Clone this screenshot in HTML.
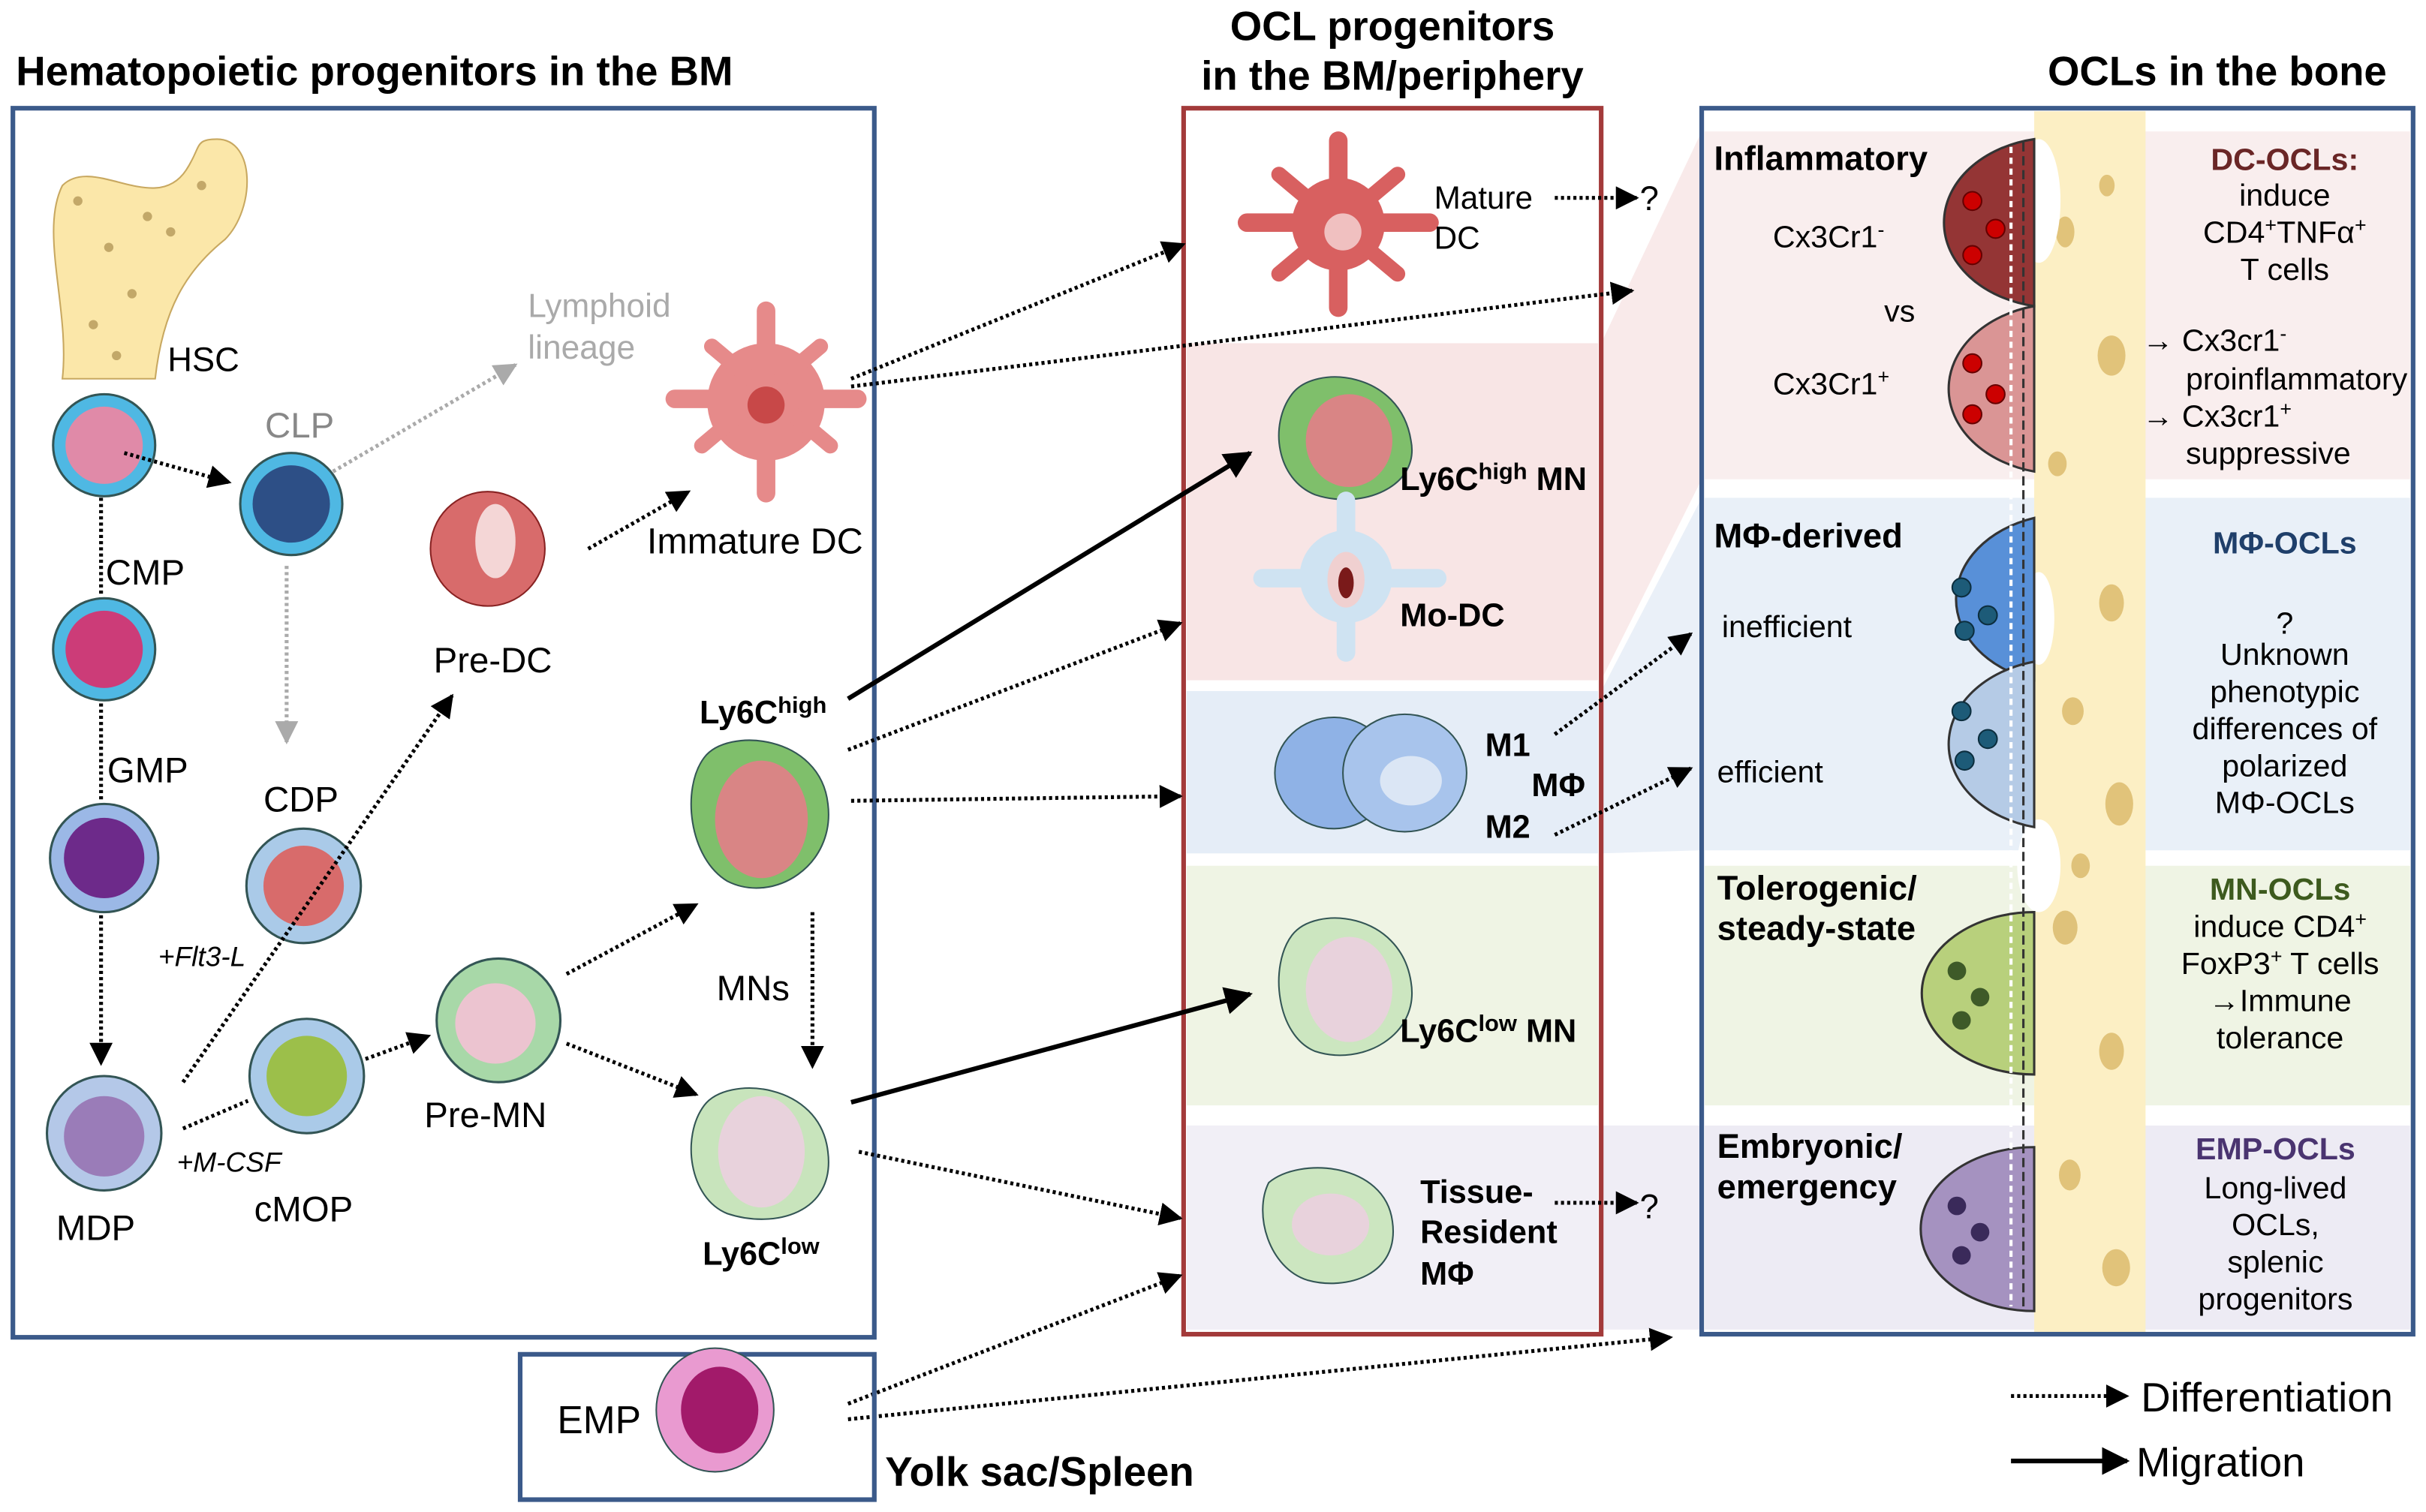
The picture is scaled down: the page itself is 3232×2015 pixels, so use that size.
<!DOCTYPE html>
<html><head><meta charset="utf-8"><style>
html,body{margin:0;padding:0;background:#fff}
svg{display:block}
text{font-family:"Liberation Sans",sans-serif}
</style></head><body>
<svg width="3232" height="2015" viewBox="0 0 1568 978" xmlns="http://www.w3.org/2000/svg">
<defs>
<marker id="a" viewBox="0 0 10 10" refX="9" refY="5" markerWidth="6" markerHeight="6" orient="auto"><path d="M0,0L10,5L0,10z" fill="#000"/></marker>
<marker id="g" viewBox="0 0 10 10" refX="9" refY="5" markerWidth="6" markerHeight="6" orient="auto"><path d="M0,0L10,5L0,10z" fill="#aaa"/></marker>
</defs>
<rect width="1568" height="978" fill="#fff"/>
<!-- titles -->
<text x="10" y="55" font-size="26.5" font-weight="bold">Hematopoietic progenitors in the BM</text>
<text x="900" y="26" font-size="26.5" font-weight="bold" text-anchor="middle">OCL progenitors</text>
<text x="900" y="58" font-size="26.5" font-weight="bold" text-anchor="middle">in the BM/periphery</text>
<text x="1543" y="55" font-size="26.5" font-weight="bold" text-anchor="end">OCLs in the bone</text>

<!-- fans -->
<polygon points="1035,222 1100,85 1100,310 1035,440" fill="#f9eaea"/>
<polygon points="1035,447 1100,322 1100,550 1035,552" fill="#eaf0f8"/>
<polygon points="1035,728 1100,728 1100,860 1035,860" fill="#efedf5"/>

<!-- middle bands -->
<rect x="767" y="222" width="266" height="218" fill="#f8e5e5"/>
<rect x="767" y="447" width="266" height="105" fill="#e5edf7"/>
<rect x="767" y="560" width="266" height="155" fill="#eff4e4"/>
<rect x="767" y="728" width="266" height="132" fill="#f1eff6"/>
<rect x="765" y="70" width="270" height="793" fill="none" stroke="#a33a3a" stroke-width="3"/>

<!-- right bands -->
<rect x="1102" y="85" width="456" height="225" fill="#f9eeee"/>
<rect x="1102" y="322" width="456" height="228" fill="#e9f0f8"/>
<rect x="1102" y="560" width="456" height="155" fill="#eff4e4"/>
<rect x="1102" y="728" width="456" height="132" fill="#edebf4"/>
<rect x="1315" y="72" width="72" height="790" fill="#fcefc4"/>
<g fill="#d9b868" opacity="0.8">
<ellipse cx="1335" cy="150" rx="6" ry="10"/><ellipse cx="1365" cy="230" rx="9" ry="13"/><ellipse cx="1330" cy="300" rx="6" ry="8"/>
<ellipse cx="1365" cy="390" rx="8" ry="12"/><ellipse cx="1340" cy="460" rx="7" ry="9"/><ellipse cx="1370" cy="520" rx="9" ry="14"/>
<ellipse cx="1335" cy="600" rx="8" ry="11"/><ellipse cx="1365" cy="680" rx="8" ry="12"/><ellipse cx="1338" cy="760" rx="7" ry="10"/>
<ellipse cx="1368" cy="820" rx="9" ry="12"/><ellipse cx="1362" cy="120" rx="5" ry="7"/><ellipse cx="1345" cy="560" rx="6" ry="8"/>
</g>
<g fill="#fff"><ellipse cx="1318" cy="130" rx="14" ry="40"/><ellipse cx="1318" cy="560" rx="14" ry="30"/><ellipse cx="1318" cy="400" rx="10" ry="30"/></g>
<rect x="1100" y="70" width="460" height="793" fill="none" stroke="#3b5a8a" stroke-width="3"/>

<!-- left box -->
<rect x="8" y="70" width="557" height="795" fill="none" stroke="#3b5a8a" stroke-width="3"/>
<!-- bone -->
<path d="M40,245 C45,200 25,150 40,120 C60,100 100,140 120,110 C130,95 125,90 140,90 C165,90 165,135 145,155 C120,175 105,200 100,245 Z" fill="#fbe7a9" stroke="#c8a860"/>
<g fill="#8b6a2a" opacity="0.5"><circle cx="70" cy="160" r="3"/><circle cx="85" cy="190" r="3"/><circle cx="60" cy="210" r="3"/><circle cx="95" cy="140" r="3"/><circle cx="130" cy="120" r="3"/><circle cx="75" cy="230" r="3"/><circle cx="110" cy="150" r="3"/><circle cx="50" cy="130" r="3"/></g>
<text x="108" y="240" font-size="22">HSC</text>

<!-- progenitor circles -->
<circle cx="67" cy="288" r="33" fill="#4fb8e3" stroke="#355" stroke-width="1.5"/><circle cx="67" cy="288" r="25" fill="#e08aa8"/>
<circle cx="188" cy="326" r="33" fill="#4fb8e3" stroke="#355" stroke-width="1.5"/><circle cx="188" cy="326" r="25" fill="#2d4f86"/>
<circle cx="67" cy="420" r="33" fill="#4fb8e3" stroke="#355" stroke-width="1.5"/><circle cx="67" cy="420" r="25" fill="#cc3c78"/>
<circle cx="67" cy="555" r="35" fill="#9bb8e6" stroke="#355" stroke-width="1.5"/><circle cx="67" cy="555" r="26" fill="#6d2a8a"/>
<circle cx="67" cy="733" r="37" fill="#b4c8e8" stroke="#355" stroke-width="1.5"/><circle cx="67" cy="735" r="26" fill="#9a7cb8"/>
<circle cx="196" cy="573" r="37" fill="#aacae8" stroke="#355" stroke-width="1.5"/><circle cx="196" cy="573" r="26" fill="#d86b6b"/>
<circle cx="198" cy="696" r="37" fill="#aacae8" stroke="#355" stroke-width="1.5"/><circle cx="198" cy="696" r="26" fill="#9cbf4a"/>
<circle cx="322" cy="660" r="40" fill="#a8d8a8" stroke="#355" stroke-width="1.5"/><circle cx="320" cy="662" r="26" fill="#ecc4d0"/>
<!-- pre-DC -->
<circle cx="315" cy="355" r="37" fill="#d86b6b" stroke="#822" stroke-width="1"/><ellipse cx="320" cy="350" rx="13" ry="24" fill="#f4d6d6"/>
<!-- immature DC -->
<g fill="#e68a8a"><circle cx="495" cy="260" r="38"/><rect x="430" y="252" width="130" height="12" rx="6"/><rect x="489" y="195" width="12" height="130" rx="6"/><rect x="440" y="250" width="110" height="10" rx="5" transform="rotate(40 495 260)"/><rect x="440" y="250" width="110" height="10" rx="5" transform="rotate(-40 495 260)"/></g>
<circle cx="495" cy="262" r="12" fill="#c84848"/>
<!-- monocytes -->
<path d="M455,490 C470,470 530,475 535,520 C540,560 500,585 470,570 C445,555 440,510 455,490Z" fill="#7fbf6b" stroke="#355"/><ellipse cx="492" cy="530" rx="30" ry="38" fill="#d98585"/>
<path d="M455,715 C470,695 530,700 535,745 C540,785 500,795 470,785 C445,775 440,735 455,715Z" fill="#c8e4bc" stroke="#355"/><ellipse cx="492" cy="745" rx="28" ry="36" fill="#e8d2dc"/>

<!-- left labels -->
<text x="341" y="205" font-size="21.5" fill="#aaa">Lymphoid</text>
<text x="341" y="232" font-size="21.5" fill="#aaa">lineage</text>
<text x="171" y="283" font-size="23" fill="#888">CLP</text>
<text x="68" y="378" font-size="23">CMP</text>
<text x="69" y="506" font-size="23">GMP</text>
<text x="170" y="525" font-size="23">CDP</text>
<text x="280" y="435" font-size="23">Pre-DC</text>
<text x="418" y="358" font-size="23.5">Immature DC</text>
<text x="452" y="468" font-size="21" font-weight="bold">Ly6C<tspan font-size="15" dy="-7">high</tspan></text>
<text x="463" y="647" font-size="23">MNs</text>
<text x="274" y="729" font-size="23">Pre-MN</text>
<text x="454" y="818" font-size="21" font-weight="bold">Ly6C<tspan font-size="15" dy="-7">low</tspan></text>
<text x="102" y="625" font-size="18" font-style="italic">+Flt3-L</text>
<text x="114" y="758" font-size="18" font-style="italic">+M-CSF</text>
<text x="164" y="790" font-size="23">cMOP</text>
<text x="36" y="802" font-size="23">MDP</text>

<!-- left arrows -->
<g stroke="#000" stroke-width="2.5" stroke-dasharray="2,2" fill="none">
<line x1="80" y1="293" x2="148" y2="312" marker-end="url(#a)"/>
<line x1="65" y1="322" x2="65" y2="385"/>
<line x1="65" y1="455" x2="65" y2="518"/>
<line x1="65" y1="592" x2="65" y2="688" marker-end="url(#a)"/>
<line x1="118" y1="700" x2="292" y2="450" marker-end="url(#a)"/>
<line x1="118" y1="730" x2="160" y2="712"/>
<line x1="236" y1="685" x2="277" y2="670" marker-end="url(#a)"/>
<line x1="380" y1="355" x2="445" y2="318" marker-end="url(#a)"/>
<line x1="366" y1="630" x2="450" y2="585" marker-end="url(#a)"/>
<line x1="366" y1="675" x2="450" y2="708" marker-end="url(#a)"/>
<line x1="525" y1="590" x2="525" y2="690" marker-end="url(#a)"/>
<line x1="550" y1="245" x2="765" y2="158" marker-end="url(#a)"/>
<line x1="550" y1="250" x2="1055" y2="188" marker-end="url(#a)"/>
<line x1="548" y1="485" x2="763" y2="403" marker-end="url(#a)"/>
<line x1="550" y1="518" x2="763" y2="515" marker-end="url(#a)"/>
<line x1="555" y1="745" x2="763" y2="788" marker-end="url(#a)"/>
<line x1="548" y1="908" x2="763" y2="825" marker-end="url(#a)"/>
<line x1="548" y1="918" x2="1080" y2="865" marker-end="url(#a)"/>
<line x1="1005" y1="128" x2="1058" y2="128" marker-end="url(#a)"/>
<line x1="1005" y1="778" x2="1058" y2="778" marker-end="url(#a)"/>
<line x1="1005" y1="475" x2="1093" y2="410" marker-end="url(#a)"/>
<line x1="1005" y1="540" x2="1093" y2="497" marker-end="url(#a)"/>
<line x1="1300" y1="903" x2="1375" y2="903" marker-end="url(#a)"/>
</g>
<g stroke="#aaa" stroke-width="2.5" stroke-dasharray="2,2" fill="none">
<line x1="215" y1="305" x2="333" y2="236" marker-end="url(#g)"/>
<line x1="185" y1="366" x2="185" y2="480" marker-end="url(#g)"/>
</g>
<g stroke="#000" stroke-width="3" fill="none">
<line x1="548" y1="452" x2="808" y2="293" marker-end="url(#a)"/>
<line x1="550" y1="713" x2="808" y2="643" marker-end="url(#a)"/>
<line x1="1300" y1="945" x2="1375" y2="945" marker-end="url(#a)"/>
</g>

<!-- middle cells -->
<g fill="#d86060"><circle cx="865" cy="145" r="30"/><rect x="800" y="138" width="130" height="12" rx="6"/><rect x="859" y="85" width="12" height="120" rx="6"/><rect x="810" y="140" width="110" height="10" rx="5" transform="rotate(40 865 145)"/><rect x="810" y="140" width="110" height="10" rx="5" transform="rotate(-40 865 145)"/></g>
<circle cx="868" cy="150" r="12" fill="#f0c0c0"/>
<path d="M835,255 C850,235 905,240 912,285 C918,315 880,330 850,320 C825,310 820,275 835,255Z" fill="#7fbf6b" stroke="#355"/><ellipse cx="872" cy="285" rx="28" ry="30" fill="#d98585"/>
<g fill="#cfe3f2"><circle cx="870" cy="373" r="30"/><rect x="810" y="368" width="125" height="12" rx="6"/><rect x="864" y="318" width="12" height="110" rx="6"/></g>
<ellipse cx="870" cy="375" rx="12" ry="18" fill="#f0d0d0"/><ellipse cx="870" cy="377" rx="5" ry="10" fill="#7a1a1a"/>
<ellipse cx="862" cy="500" rx="38" ry="36" fill="#8fb2e6" stroke="#355"/><ellipse cx="908" cy="500" rx="40" ry="38" fill="#a8c4ec" stroke="#355"/><ellipse cx="912" cy="505" rx="20" ry="16" fill="#dbe6f5"/>
<path d="M835,605 C850,585 905,590 912,635 C918,670 880,690 850,680 C825,670 820,625 835,605Z" fill="#cce6c0" stroke="#355"/><ellipse cx="872" cy="640" rx="28" ry="34" fill="#e8d2dc"/>
<path d="M820,765 C840,748 895,752 900,790 C905,825 870,835 845,828 C820,820 810,785 820,765Z" fill="#cce6c0" stroke="#355"/><ellipse cx="860" cy="792" rx="25" ry="20" fill="#e8d2dc"/>

<text x="927" y="135" font-size="20.5">Mature</text>
<text x="927" y="161" font-size="20.5">DC</text>
<text x="1060" y="136" font-size="22">?</text>
<text x="905" y="317" font-size="21" font-weight="bold">Ly6C<tspan font-size="15" dy="-7">high</tspan><tspan dy="7"> MN</tspan></text>
<text x="905" y="405" font-size="21" font-weight="bold">Mo-DC</text>
<text x="960" y="489" font-size="21" font-weight="bold">M1</text>
<text x="990" y="515" font-size="21" font-weight="bold">MΦ</text>
<text x="960" y="542" font-size="21" font-weight="bold">M2</text>
<text x="905" y="674" font-size="21" font-weight="bold">Ly6C<tspan font-size="15" dy="-7">low</tspan><tspan dy="7"> MN</tspan></text>
<text x="918" y="778" font-size="21" font-weight="bold">Tissue-</text>
<text x="918" y="804" font-size="21" font-weight="bold">Resident</text>
<text x="918" y="831" font-size="21" font-weight="bold">MΦ</text>
<text x="1060" y="788" font-size="22">?</text>

<!-- OCL half cells -->
<g stroke="#333" stroke-width="1.5">
<path d="M1315,90 A72,55 0 0 0 1315,198 Z" fill="#943535"/>
<path d="M1315,198 A72,55 0 0 0 1315,305 Z" fill="#da9595"/>
<path d="M1315,335 A72,55 0 0 0 1315,440 Z" fill="#5890d8"/>
<path d="M1315,428 A72,55 0 0 0 1315,535 Z" fill="#b5cbe6"/>
<path d="M1315,590 A72,52 0 0 0 1315,695 Z" fill="#b8d07c"/>
<path d="M1315,742 A72,52 0 0 0 1315,848 Z" fill="#a592c0"/>
</g>
<g stroke="#fff" stroke-width="2" fill="none" stroke-dasharray="4,3">
<line x1="1300" y1="95" x2="1300" y2="845"/>
</g>
<g stroke="#333" stroke-width="1.5" fill="none" stroke-dasharray="6,3">
<line x1="1308" y1="92" x2="1308" y2="845"/>
</g>
<g fill="#c00" stroke="#600"><circle cx="1275" cy="130" r="6"/><circle cx="1290" cy="148" r="6"/><circle cx="1275" cy="165" r="6"/><circle cx="1275" cy="235" r="6"/><circle cx="1290" cy="255" r="6"/><circle cx="1275" cy="268" r="6"/></g>
<g fill="#1d5b78" stroke="#0c2e3e"><circle cx="1268" cy="380" r="6"/><circle cx="1285" cy="398" r="6"/><circle cx="1270" cy="408" r="6"/><circle cx="1268" cy="460" r="6"/><circle cx="1285" cy="478" r="6"/><circle cx="1270" cy="492" r="6"/></g>
<g fill="#3e5a28"><circle cx="1265" cy="628" r="6"/><circle cx="1280" cy="645" r="6"/><circle cx="1268" cy="660" r="6"/></g>
<g fill="#3a2a5a"><circle cx="1265" cy="780" r="6"/><circle cx="1280" cy="797" r="6"/><circle cx="1268" cy="812" r="6"/></g>

<!-- right labels -->
<text x="1108" y="110" font-size="22" font-weight="bold">Inflammatory</text>
<text x="1146" y="160" font-size="20">Cx3Cr1<tspan font-size="13" dy="-7">-</tspan></text>
<text x="1218" y="208" font-size="20">vs</text>
<text x="1146" y="255" font-size="20">Cx3Cr1<tspan font-size="13" dy="-7">+</tspan></text>
<text x="1477" y="110" font-size="20" font-weight="bold" fill="#6a2626" text-anchor="middle">DC-OCLs:</text>
<text x="1477" y="133" font-size="20" text-anchor="middle">induce</text>
<text x="1477" y="157" font-size="20" text-anchor="middle">CD4<tspan font-size="13" dy="-7">+</tspan><tspan dy="7">TNFα</tspan><tspan font-size="13" dy="-7">+</tspan></text>
<text x="1477" y="181" font-size="20" text-anchor="middle">T cells</text>
<text x="1385" y="227" font-size="20">→ Cx3cr1<tspan font-size="13" dy="-7">-</tspan></text>
<text x="1413" y="252" font-size="20">proinflammatory</text>
<text x="1385" y="276" font-size="20">→ Cx3cr1<tspan font-size="13" dy="-7">+</tspan></text>
<text x="1413" y="300" font-size="20">suppressive</text>

<text x="1108" y="354" font-size="22" font-weight="bold">MΦ-derived</text>
<text x="1113" y="412" font-size="20">inefficient</text>
<text x="1110" y="506" font-size="20">efficient</text>
<text x="1477" y="358" font-size="20" font-weight="bold" fill="#1f3f6a" text-anchor="middle">MΦ-OCLs</text>
<text x="1477" y="410" font-size="20" text-anchor="middle">?</text>
<text x="1477" y="430" font-size="20" text-anchor="middle">Unknown</text>
<text x="1477" y="454" font-size="20" text-anchor="middle">phenotypic</text>
<text x="1477" y="478" font-size="20" text-anchor="middle">differences of</text>
<text x="1477" y="502" font-size="20" text-anchor="middle">polarized</text>
<text x="1477" y="526" font-size="20" text-anchor="middle">MΦ-OCLs</text>

<text x="1110" y="582" font-size="22" font-weight="bold">Tolerogenic/</text>
<text x="1110" y="608" font-size="22" font-weight="bold">steady-state</text>
<text x="1474" y="582" font-size="20" font-weight="bold" fill="#3d5a1e" text-anchor="middle">MN-OCLs</text>
<text x="1474" y="606" font-size="20" text-anchor="middle">induce CD4<tspan font-size="13" dy="-7">+</tspan></text>
<text x="1474" y="630" font-size="20" text-anchor="middle">FoxP3<tspan font-size="13" dy="-7">+</tspan><tspan dy="7"> T cells</tspan></text>
<text x="1474" y="654" font-size="20" text-anchor="middle">→Immune</text>
<text x="1474" y="678" font-size="20" text-anchor="middle">tolerance</text>

<text x="1110" y="749" font-size="22" font-weight="bold">Embryonic/</text>
<text x="1110" y="775" font-size="22" font-weight="bold">emergency</text>
<text x="1471" y="750" font-size="20" font-weight="bold" fill="#4a3470" text-anchor="middle">EMP-OCLs</text>
<text x="1471" y="775" font-size="20" text-anchor="middle">Long-lived</text>
<text x="1471" y="799" font-size="20" text-anchor="middle">OCLs,</text>
<text x="1471" y="823" font-size="20" text-anchor="middle">splenic</text>
<text x="1471" y="847" font-size="20" text-anchor="middle">progenitors</text>

<!-- EMP -->
<rect x="336" y="876" width="229" height="94" fill="none" stroke="#3b5a8a" stroke-width="3"/>
<text x="360" y="927" font-size="25">EMP</text>
<ellipse cx="462" cy="912" rx="38" ry="40" fill="#e99ad0" stroke="#355"/><ellipse cx="465" cy="912" rx="25" ry="28" fill="#a21a6a"/>
<text x="572" y="961" font-size="26.5" font-weight="bold">Yolk sac/Spleen</text>

<!-- legend -->
<text x="1384" y="913" font-size="26.5">Differentiation</text>
<text x="1381" y="955" font-size="26.5">Migration</text>
</svg>
</body></html>
